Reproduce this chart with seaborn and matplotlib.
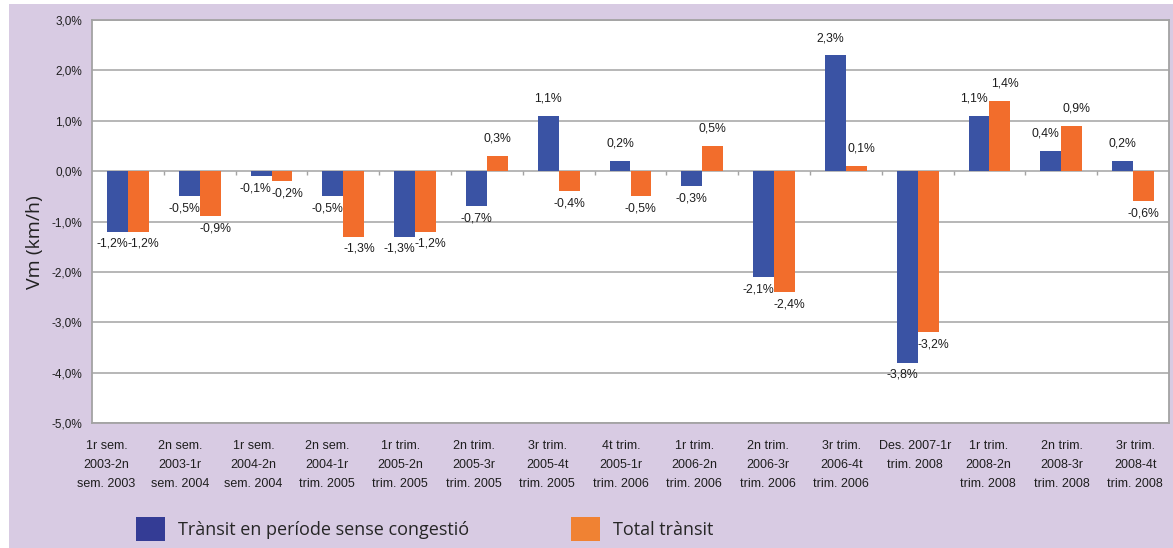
"""Velocitat mitjana: variació per període (barres agrupades)."""
import numpy as np
import pandas as pd
import matplotlib
matplotlib.use("Agg")
import matplotlib.pyplot as plt
from matplotlib.patches import Rectangle, Patch
import seaborn as sns

PERIODS = [
    "1r sem.\n2003-2n\nsem. 2003",
    "2n sem.\n2003-1r\nsem. 2004",
    "1r sem.\n2004-2n\nsem. 2004",
    "2n sem.\n2004-1r\ntrim. 2005",
    "1r trim.\n2005-2n\ntrim. 2005",
    "2n trim.\n2005-3r\ntrim. 2005",
    "3r trim.\n2005-4t\ntrim. 2005",
    "4t trim.\n2005-1r\ntrim. 2006",
    "1r trim.\n2006-2n\ntrim. 2006",
    "2n trim.\n2006-3r\ntrim. 2006",
    "3r trim.\n2006-4t\ntrim. 2006",
    "Des. 2007-1r\ntrim. 2008",
    "1r trim.\n2008-2n\ntrim. 2008",
    "2n trim.\n2008-3r\ntrim. 2008",
    "3r trim.\n2008-4t\ntrim. 2008",
]
SERIES = ["Trànsit en període sense congestió", "Total trànsit"]
NO_CONGESTION = [-1.2, -0.5, -0.1, -0.5, -1.3, -0.7, 1.1, 0.2, -0.3, -2.1, 2.3, -3.8, 1.1, 0.4, 0.2]
TOTAL = [-1.2, -0.9, -0.2, -1.3, -1.2, 0.3, -0.4, -0.5, 0.5, -2.4, 0.1, -3.2, 1.4, 0.9, -0.6]
Y_TICKS = [-5, -4, -3, -2, -1, 0, 1, 2, 3]

COLORS = ["#3A53A4", "#F26D2C"]
BG = "#D8CBE3"
GRID = "#A3A3A3"
TXT = "#1e1e1e"
NARROW = ["Liberation Sans", "DejaVu Sans"]


def pct(v):
    return f"{v:.1f}%".replace(".", ",")


def main():
    df = pd.DataFrame({
        "period": PERIODS * 2,
        "serie": [SERIES[0]] * len(PERIODS) + [SERIES[1]] * len(PERIODS),
        "value": NO_CONGESTION + TOTAL,
    })

    sns.set_style("white")
    fig = plt.figure(figsize=(11.73, 5.48), dpi=100, facecolor="white")
    fig.patches.append(Rectangle((9 / 1173, 0), 1, 1 - 4 / 548, transform=fig.transFigure,
                                 facecolor=BG, edgecolor="none", zorder=-10))
    ax = fig.add_axes([92 / 1173, 1 - 423 / 548, (1169 - 92) / 1173, (423 - 20) / 548])
    ax.set_facecolor("white")

    sns.barplot(data=df, x="period", y="value", hue="serie", order=PERIODS,
                hue_order=SERIES, palette=COLORS, width=0.58, linewidth=0,
                saturation=1, legend=False, ax=ax, zorder=3)

    ax.set_ylim(-5, 3)
    ax.set_xlim(-0.5, len(PERIODS) - 0.5)
    ax.set_yticks(Y_TICKS, [pct(t) for t in Y_TICKS], family=NARROW, fontsize=8.5, color=TXT)
    ax.yaxis.grid(True, color=GRID, linewidth=1.1, zorder=0)
    ax.set_axisbelow(True)
    ax.tick_params(axis="y", length=4, color=GRID, width=1, pad=3)

    # category labels are spaced a little wider than the bar groups in the original
    label_pos = np.linspace(-0.3, len(PERIODS) - 0.97, len(PERIODS))
    ax.set_xticks(label_pos, PERIODS, family=NARROW, fontsize=9, linespacing=1.8, color=TXT)
    ax.tick_params(axis="x", length=0, pad=12)
    ax.set_xlabel("")
    ax.set_ylabel("")

    # small marks between groups on the zero line
    ax.vlines(np.arange(0.5, len(PERIODS) - 0.5), -0.08, 0, color=GRID, linewidth=1, zorder=2)

    for spine in ax.spines.values():
        spine.set_color(GRID)
        spine.set_linewidth(1.3)

    # value labels, pushed apart sideways when both bars of a group point the same way
    for j, (cont, vals) in enumerate(zip(ax.containers, [NO_CONGESTION, TOTAL])):
        for i, (bar, v) in enumerate(zip(cont.patches, vals)):
            same_side = np.sign(NO_CONGESTION[i]) == np.sign(TOTAL[i])
            dx = (-3.8 if j == 0 else 3.8) if same_side else 0
            dy = 8 if v > 0 else -4.5
            end = bar.get_y() + bar.get_height()
            ax.annotate(pct(v), (bar.get_x() + bar.get_width() / 2, end),
                        xytext=(dx, dy), textcoords="offset points", ha="center",
                        va="bottom" if v > 0 else "top", family=NARROW, fontsize=8.8, color=TXT)

    fig.text(35 / 1173, 1 - 242 / 548, "Vm (km/h)", rotation=90, ha="center", va="center",
             family=["Open Sans", "DejaVu Sans"], fontsize=14, color="#222222")

    handles = [Patch(facecolor=c, edgecolor="none") for c in ["#343C95", "#F08233"]]
    fig.legend(handles, SERIES, loc="center left", bbox_to_anchor=(136 / 1173, 1 - 529 / 548),
               ncol=2, frameon=False, borderpad=0, borderaxespad=0,
               handlelength=1.6, handleheight=1.6, handletextpad=0.75, columnspacing=5.6,
               prop={"family": ["Open Sans", "DejaVu Sans"], "size": 13})

    fig.savefig("out.png", dpi=100, facecolor=fig.get_facecolor())
    plt.close(fig)


if __name__ == "__main__":
    main()
